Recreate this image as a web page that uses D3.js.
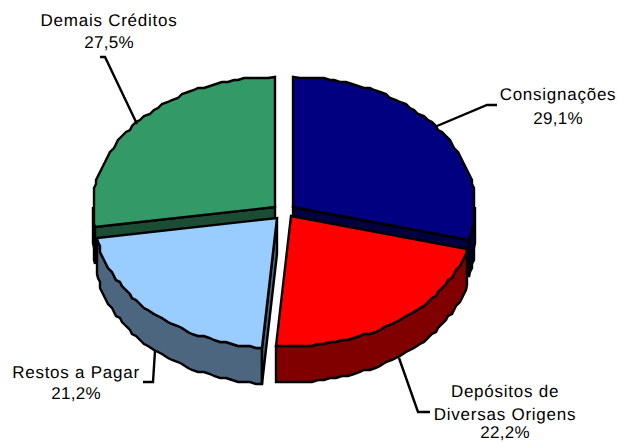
<!DOCTYPE html>
<html>
<head>
<meta charset="utf-8">
<script src="https://cdn.jsdelivr.net/npm/d3@7"></script>
<style>
html,body{margin:0;padding:0;background:#fff}
text{font-family:"Liberation Sans",Arial,sans-serif;font-size:17px;fill:#000;text-rendering:geometricPrecision}
</style>
</head>
<body>
<svg id="chart" width="618" height="442"></svg>
<script>
const categories = ["Consignações", "Depósitos de Diversas Origens", "Restos a Pagar", "Demais Créditos"];
const shares = [29.1, 22.2, 21.2, 27.5];
const topColors = ["#000080", "#ff0000", "#99ccff", "#339966"];
const wallColors = ["#000040", "#800000", "#4d6680", "#1a4d33"];
const apexes = [[293, 207], [291, 216], [277, 218], [275, 207]];
const labelLines = [["Consignações"], ["Depósitos de", "Diversas Origens"], ["Restos a Pagar"], ["Demais Créditos"]];
const labelX = [558, 505, 76, 109];
const labelBaselines = [[100, 124], [397, 420, 438], [378, 399], [26, 48]];
const leaders = [
  [[437, 126], [487, 105], [497, 105]],
  [[399, 358], [418, 412], [430, 412]],
  [[155, 351], [153, 382], [143, 382]],
  [[137, 124], [105, 57], [100, 57]]
];

const rx = 182, ry = 130, depth = 36, snap = 2;
const svg = d3.select("#chart");
const projX = d3.scaleLinear().domain([-1, 1]).range([-rx, rx]);
const projY = d3.scaleLinear().domain([-1, 1]).range([-ry, ry]);
const pie = d3.pie().sort(null).value(d => d).startAngle(0).endAngle(2 * Math.PI);
const arcs = pie(shares);
const trace = d3.line().curve(d3.curveLinear);
const toGrid = v => Math.round(v / snap) * snap;

// Points along a slice rim; interior points sit on a coarse grid for the stepped printed edge.
function rim(apex, a0, a1, drop) {
  const n = Math.max(2, Math.round(Math.abs(a1 - a0) * 30));
  return d3.range(n + 1).map(i => {
    const a = a0 + (a1 - a0) * i / n;
    const x = apex[0] + projX(Math.sin(a)), y = apex[1] + drop - projY(Math.cos(a));
    return i === 0 || i === n ? [Math.round(x), Math.round(y)] : [toGrid(x), toGrid(y)];
  });
}
const style = (sel, fill) => sel.attr("fill", fill).attr("stroke", "#000").attr("stroke-width", 2.4).attr("stroke-linejoin", "miter");

// Walls and cut faces first, back slices before front slices.
[3, 0, 2, 1].forEach(i => {
  const d = arcs[i], apex = apexes[i], g = svg.append("g");
  const lo = Math.max(d.startAngle, Math.PI / 2), hi = Math.min(d.endAngle, 3 * Math.PI / 2);
  if (lo < hi) {
    const pts = rim(apex, lo, hi, 0).concat(rim(apex, hi, lo, depth));
    style(g.append("path").attr("d", trace(pts) + "Z"), wallColors[i]);
  }
  // The cut face turned toward the viewer.
  const cutAngle = i === 0 ? d.endAngle : i === 2 ? d.startAngle : i === 3 ? d.startAngle : null;
  if (cutAngle !== null) {
    const e = rim(apex, cutAngle, cutAngle, 0)[0];
    const pts = [apex, e, [e[0], e[1] + depth], [apex[0], apex[1] + depth]];
    style(g.append("path").attr("d", trace(pts) + "Z"), wallColors[i]);
  }
  const top = [apex].concat(rim(apex, d.startAngle, d.endAngle, 0));
  style(g.append("path").attr("d", trace(top) + "Z"), topColors[i]);
});

// Leader lines and labels.
leaders.forEach(pts => {
  svg.append("path").attr("d", trace(pts)).attr("fill", "none").attr("stroke", "#000").attr("stroke-width", 2.4);
});
const percent = v => v.toFixed(1).replace(".", ",") + "%";
categories.forEach((c, i) => {
  const lines = labelLines[i].concat(percent(shares[i]));
  lines.forEach((t, k) => {
    svg.append("text").attr("x", labelX[i]).attr("y", labelBaselines[i][k])
      .attr("text-anchor", "middle")
      .style("letter-spacing", k === lines.length - 1 ? "0.3px" : "0.75px")
      .text(t);
  });
});
</script>
</body>
</html>
